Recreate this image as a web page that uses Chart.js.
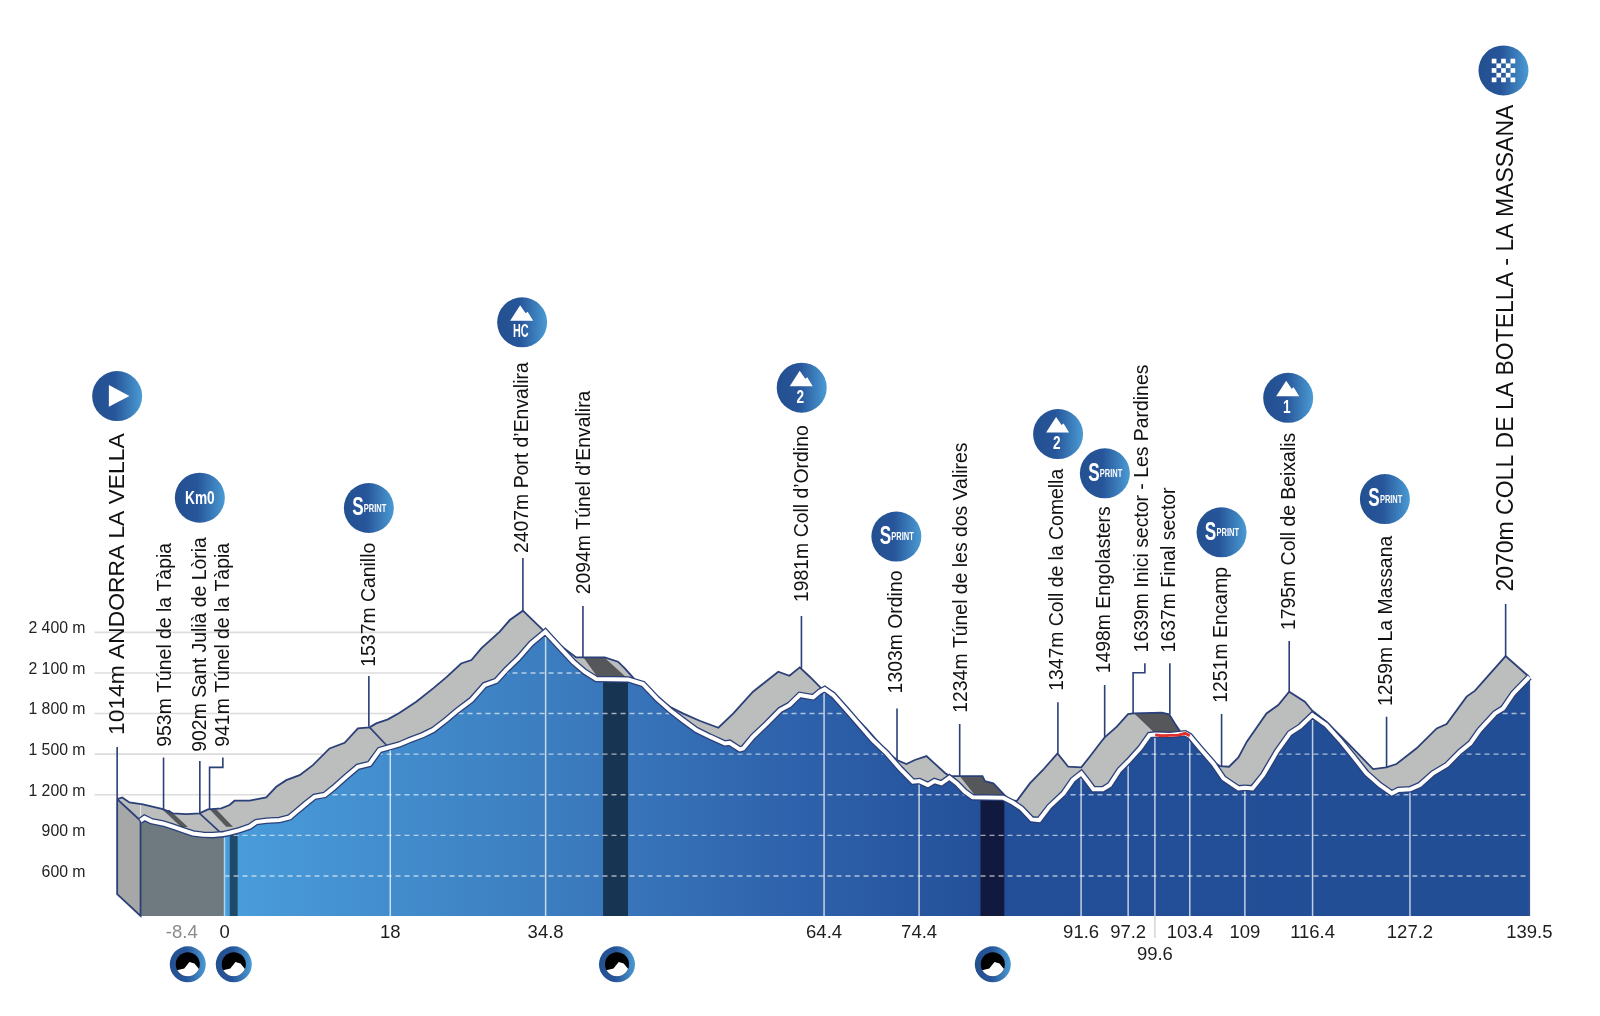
<!DOCTYPE html>
<html>
<head>
<meta charset="utf-8">
<title>Stage profile</title>
<style>
html,body{margin:0;padding:0;background:#fff}
#wrap{position:relative;width:1600px;height:1016px}
</style>
<script src="https://cdn.jsdelivr.net/npm/chart.js@4"></script>
</head>
<body>
<div id="wrap"><canvas id="c"></canvas></div>
<script>
// ---- profile (front edge = road profile), km / metres
const frontKm = [-8.98,-8.55,-7.84,-6.59,-5.52,-4.45,-3.38,-2.31,-1.24,-0.10,0.54,1.61,2.68,3.39,4.46,5.89,6.96,7.67,8.74,9.63,10.7,11.59,13.0,14.26,15.51,16.58,17.83,18.72,19.79,21.2,22.3,23.7,24.96,26.4,27.8,29.06,30.1,31.4,32.8,34.3,35.83,37.26,38.5,39.75,43.14,44.75,46.2,47.6,49.0,50.45,51.9,53.5,54.0,55.1,55.45,56.5,58.0,59.4,60.4,61.5,62.93,63.64,64.17,65.07,66.5,67.9,69.3,70.8,72.2,73.6,74.3,75.2,75.9,76.65,77.5,78.3,79.15,80.0,83.25,84.3,85.2,86.3,87.1,88.2,89.7,90.7,91.6,92.16,92.9,93.9,94.65,95.7,96.6,97.9,98.9,99.5,101.1,102.7,103.2,104.3,105.7,106.8,108.4,109.1,109.9,111.05,112.5,113.9,115.0,116.3,117.8,119.25,120.7,122.1,123.5,124.8,125.5,126.75,127.8,129.2,130.7,132.1,133.2,134.2,135.85,136.7,137.8,139.5];
const frontElev = [1008,1030,1005,988,964,939,914,904,902,909,919,939,964,998,1008,1013,1033,1074,1136,1185,1198,1247,1333,1407,1427,1530,1555,1572,1604,1641,1678,1752,1826,1900,2010,2042,2121,2207,2318,2404,2289,2183,2109,2055,2052,2018,1912,1826,1752,1678,1629,1579,1584,1535,1542,1629,1727,1826,1863,1937,1920,1961,1981,1937,1826,1715,1604,1506,1395,1296,1301,1272,1301,1284,1326,1284,1223,1181,1178,1141,1099,1018,1013,1112,1210,1309,1358,1309,1240,1240,1272,1383,1444,1543,1641,1646,1641,1654,1634,1543,1432,1321,1247,1252,1247,1346,1518,1654,1703,1789,1715,1604,1481,1358,1272,1210,1235,1240,1272,1358,1420,1518,1580,1678,1801,1838,1949,2070];
// back edge of the perspective band
const backKm = [-11.48,-10.94,-10.16,-8.73,-6.59,-5.52,-4.1,-2.67,-1.78,-0.35,0.54,1.07,2.68,4.46,5.53,6.6,8.03,9.45,11.23,12.84,14.26,15.51,16.22,17.47,18.72,20.5,22.3,23.7,25.3,26.4,27.45,29.4,30.5,31.9,34.05,35.83,37.6,40.65,42.07,42.8,43.85,44.75,46.2,47.6,49.0,50.8,52.8,54.4,56.5,59.2,60.4,61.5,62.57,63.8,65.07,66.5,68.6,70.8,71.9,72.9,73.8,75.05,75.9,77.0,77.5,81.04,81.3,82.2,83.4,83.8,84.7,86.1,87.5,89.06,90.2,91.6,92.5,93.6,94.1,95.4,96.6,97.15,100.2,101.0,101.6,102.3,103.2,104.3,105.7,106.4,107.4,108.4,109.3,111.4,112.66,113.83,115.5,116.3,117.8,120.3,122.8,124.2,125.3,127.45,129.6,130.66,132.8,133.7,136.97,139.5];
const backElev = [1168,1180,1143,1129,1094,1062,1057,1062,1092,1099,1124,1156,1156,1180,1259,1308,1345,1419,1542,1584,1690,1698,1727,1757,1806,1887,1986,2067,2170,2195,2281,2404,2491,2560,2417,2306,2215,2215,2183,2133,2052,2023,1919,1850,1801,1747,1695,1801,1961,2109,2079,2141,2072,1986,1944,1838,1690,1518,1457,1427,1457,1486,1432,1363,1338,1338,1301,1284,1198,1161,1154,1284,1383,1506,1407,1402,1481,1580,1624,1703,1796,1801,1806,1794,1727,1654,1641,1555,1444,1412,1407,1476,1592,1801,1863,1961,1888,1821,1740,1567,1390,1402,1427,1543,1690,1723,1925,1969,2225,2070];
const sectorKm = [99.5,100.2,101.1,102.0,102.7,103.2];
const sectorElev = [1642,1636,1638,1641,1654,1636];

// ---- axes
const elevTicks = [600,900,1200,1500,1800,2100,2400];
const elevTickLabels = ['600 m','900 m','1 200 m','1 500 m','1 800 m','2 100 m','2 400 m'];
const kmTickAt = [-4.57,0,17.72,34.33,64.1,74.26,91.58,96.61,99.47,103.2,109.09,116.33,126.74,139.5];
const kmTickLabels = ['-8.4','0','18','34.8','64.4','74.4','91.6','97.2',['','99.6'],'103.4','109','116.4','127.2','139.5'];
const stemKm = [0,17.72,34.33,64.1,74.26,91.58,96.61,99.47,103.2,109.09,116.33,126.74];
const stemTop = [910,1553,2404,1975,1300,1358,1444,1646,1634,1252,1789,1240];
const dashLevels = [600,900,1200,1500,1800,2100];
const solidLevels = [1200,1500,1800,2100,2400];
const solidEndKm = [4.5,10.5,18.36,24.06,29.2];

// ---- tunnels: dark columns under the road
const tunnelFromKm = [0.53,40.47,80.8];
const tunnelToKm = [1.42,43.14,83.4];
const tunnelElev = [925,2052,1178];
const tunnelColors = ['#1f4a69','#173452','#12193f'];

// ---- dark wedges across the band (upper and lower outline)
const wedgeUpperKm = [[-6.59,-5.88,-3.92],[-1.6,-0.89,0.9],[38.4,40.64,43.0],[78.6,80.93,81.29,82.18,83.32],[97.26,100.18,101,102.32]];
const wedgeUpperElev = [[1087,1087,961],[1092,1092,964],[2212,2212,2065],[1338,1338,1301,1284,1198],[1801,1806,1794,1654]];
const wedgeLowerKm = [[-6.59,-4.63,-3.92],[-1.6,0.18,0.9],[38.4,39.93,43.0],[78.6,80.2,83.32],[97.26,99.47,102.32]];
const wedgeLowerElev = [[1087,961,961],[1092,964,964],[2212,2065,2065],[1338,1198,1198],[1801,1654,1654]];

// ---- start face of the block
const sideKm = [-11.48,-8.98];
const sideTopElev = [1168,1008];
const sideBottomElev = [466,304];
const edgeKm = [-11.48,-11.48,-8.98,-8.98,-11.48];
const edgeElev = [1168,466,304,1008,1168];
const connectorKm = [[15.51,17.47],[-2.67,-0.46]];
const connectorElev = [[1698,1555],[1062,922]];

// ---- leaders and waypoint names
const leaderKm = [[-11.48,-11.48],[-6.52,-6.52],[-2.64,-2.64],[-0.18,-0.18,-1.6,-1.6],[15.43,15.43],[31.9,31.9],[38.32,38.32],[61.68,61.68],[71.9,71.9],[78.6,78.6],[89.1,89.1],[94.1,94.1],[98.4,98.4,97.14,97.14],[101.07,101.07],[106.6,106.6],[113.83,113.83],[124.24,124.24],[136.97,136.97]];
const leaderElev = [[1552,1168],[1476,1092],[1449,1065],[1476,1402,1402,1092],[2077,1702],[2949,2560],[2594,2215],[2520,2134],[1838,1456],[1722,1338],[1883,1506],[2011,1624],[2171,2101,2101,1801],[2171,1794],[1796,1412],[2336,1961],[1776,1402],[2609,2225]];
const placeNames = ['1014m ANDORRA LA VELLA','953m Túnel de la Tàpia','902m Sant Julià de Lòria','941m Túnel de la Tàpia','1537m Canillo','2407m Port d’Envalira','2094m Túnel d’Envalira','1981m Coll d’Ordino','1303m Ordino','1234m Túnel de les dos Valires','1347m Coll de la Comella','1498m Engolasters','1639m Inici sector - Les Pardines','1637m Final sector','1251m Encamp','1795m Coll de Beixalis','1259m La Massana','2070m COLL DE LA BOTELLA - LA MASSANA'];
const placeKm = [-11.38,-6.28,-2.53,-0.11,15.47,31.9,38.54,61.84,71.87,78.82,89.09,94.07,98.18,101.1,106.64,113.86,124.2,137.05];
const placeElev = [1642,1555,1518,1555,2146,2986,2681,2624,1949,1806,1968,2097,2252,2252,1880,2417,1855,2701];
const placeBig = [0,17];

// ---- badges
const badgeKm = [-11.48,-2.64,15.43,31.82,61.71,71.83,89.12,94.12,106.6,113.72,124.06,136.74];
const badgeElev = [4146,3395,3319,4691,4208,3108,3865,3575,3139,4133,3385,6552];
const badgeKinds = ['start','km0','sprint','HC','2','sprint','2','sprint','sprint','1','sprint','finish'];
const tunnelIconKm = [-3.93,0.99,41.96,82.14];
const tunnelIconElev = [-53,-53,-53,-53];

const zip=(a,b)=>a.map((v,i)=>({x:v,y:b[i]}));
const NAVY='#2b3f78', BAND='#bcbdbd', FONT='"Liberation Sans", Arial, sans-serif';
const ds=[];
function add(data,opts){
  const d=Object.assign({type:'line',data,pointRadius:0,borderWidth:0,borderColor:'transparent',backgroundColor:'transparent',tension:0,fill:false,clip:false},opts||{});
  ds.push(d);return ds.length-1;
}
function frontGradient(c){
  const ch=c.chart; if(!ch.chartArea) return '#2e60a9';
  const sx=ch.scales.x, a=sx.getPixelForValue(-8.98), b=sx.getPixelForValue(139.5);
  if(!Number.isFinite(a)||!Number.isFinite(b)||a===b) return '#2e60a9';
  const g=ch.ctx.createLinearGradient(a,0,b,0);
  const p=k=>(sx.getPixelForValue(k)-a)/(b-a);
  g.addColorStop(0,'#6f7a80');g.addColorStop(p(0),'#6f7a80');
  g.addColorStop(p(0),'#4a9ddb');
  g.addColorStop(p(34),'#3c7ec0');
  g.addColorStop(p(62),'#2e61ab');
  g.addColorStop(p(82),'#234f98');
  g.addColorStop(1,'#224e96');
  return g;
}
// grey reference lines left of the first climb
solidLevels.forEach((lv,i)=>add([{x:-13.9,y:lv},{x:solidEndKm[i],y:lv}],{borderColor:'#dcdcdc',borderWidth:1.6}));
const iFront=add(zip(frontKm,frontElev),{fill:'start',backgroundColor:frontGradient});
const iBack=add(zip(backKm,backElev),{fill:{target:iFront,above:BAND,below:'transparent'},backgroundColor:BAND});
const iSideTop=add(zip(sideKm,sideTopElev),{fill:{target:iBack,below:BAND,above:BAND},backgroundColor:BAND});
add(zip(sideKm,sideBottomElev),{fill:{target:iSideTop,below:'#a6a8a8',above:'#a6a8a8'},backgroundColor:'#a6a8a8'});
tunnelFromKm.forEach((k,i)=>add([{x:k,y:tunnelElev[i]},{x:tunnelToKm[i],y:tunnelElev[i]}],{fill:'start',backgroundColor:tunnelColors[i]}));
dashLevels.forEach(lv=>add([{x:0,y:lv},{x:139.5,y:lv}],{borderColor:'rgba(255,255,255,.62)',borderWidth:1.4,borderDash:[5,4],underRoad:true}));
stemKm.forEach((k,i)=>add([{x:k,y:304},{x:k,y:stemTop[i]}],{borderColor:i===0?'#a9d6ee':'rgba(255,255,255,.72)',borderWidth:1.5}));
add([{x:99.47,y:304},{x:99.47,y:141}],{borderColor:'#d4d4d4',borderWidth:1.5});
wedgeUpperKm.forEach((k,i)=>{
  const lo=add(zip(wedgeLowerKm[i],wedgeLowerElev[i]),{});
  add(zip(k,wedgeUpperElev[i]),{fill:{target:lo,above:'#56575a',below:'#56575a'},backgroundColor:'#56575a'});
});
add([{x:139.5,y:304},{x:139.5,y:2070}],{borderColor:'#33508f',borderWidth:1.6});
add(zip(backKm,backElev),{borderColor:NAVY,borderWidth:1.8});
add(zip(edgeKm,edgeElev),{borderColor:NAVY,borderWidth:1.8});
connectorKm.forEach((k,i)=>add(zip(k,connectorElev[i]),{borderColor:NAVY,borderWidth:1.6}));
add(zip(frontKm,frontElev),{borderColor:NAVY,borderWidth:6.6});
add(zip(frontKm,frontElev),{borderColor:'#ffffff',borderWidth:4});
add(zip(sectorKm,sectorElev),{borderColor:'#e0312e',borderWidth:2.8});
leaderKm.forEach((k,i)=>add(zip(k,leaderElev[i]),{borderColor:NAVY,borderWidth:1.6}));
function discGradient(ctx,x,r){
  const g=ctx.createLinearGradient(x-r,0,x+r,0);
  g.addColorStop(0,'#23508f');g.addColorStop(.45,'#27559a');g.addColorStop(1,'#4a9bd4');
  return g;
}
function discFill(r){
  return c=>{
    if(!c.parsed) return '#23508f';
    const x=c.chart.scales.x.getPixelForValue(c.parsed.x);
    if(!Number.isFinite(x)) return '#23508f';
    return discGradient(c.chart.ctx,x,r);
  };
}
add(zip(badgeKm,badgeElev),{showLine:false,pointRadius:25,pointBorderWidth:0,pointBackgroundColor:discFill(25)});
ds.forEach((d,i)=>d.order=ds.length-i);

const roadClip={id:'roadClip',
  beforeDatasetDraw(ch,args){
    if(!ch.data.datasets[args.index].underRoad) return;
    const {x,y}=ch.scales,c=ch.ctx;
    c.save();c.beginPath();
    frontKm.forEach((k,i)=>{const X=x.getPixelForValue(k),Y=y.getPixelForValue(frontElev[i]);i?c.lineTo(X,Y):c.moveTo(X,Y);});
    c.lineTo(x.getPixelForValue(139.5),y.getPixelForValue(304));
    c.lineTo(x.getPixelForValue(-8.98),y.getPixelForValue(304));
    c.closePath();c.clip();
  },
  afterDatasetDraw(ch,args){ if(ch.data.datasets[args.index].underRoad) ch.ctx.restore(); }
};
function squeezed(c,txt,x,y,font,sx){
  c.save();c.translate(x,y);c.scale(sx,1);c.font=font;c.fillText(txt,0,0);c.restore();
}
function mountain(c){
  c.beginPath();c.moveTo(-12,-1.5);c.lineTo(-2,-17);c.lineTo(3.5,-9);c.lineTo(5.5,-10.5);c.lineTo(11,-1.5);c.closePath();c.fill();
}
const annotations={id:'annotations',
  afterDraw(ch){
    const {x,y}=ch.scales,c=ch.ctx;
    // waypoint names
    c.save();c.fillStyle='#111';c.textAlign='left';c.textBaseline='middle';
    placeNames.forEach((t,i)=>{
      c.save();c.translate(x.getPixelForValue(placeKm[i]),y.getPixelForValue(placeElev[i]));c.rotate(-Math.PI/2);
      c.font=(i===0?'22.8px ':i===17?'23px ':'19.4px ')+FONT;c.fillText(t,0,0);c.restore();
    });
    c.restore();
    // badge glyphs
    badgeKinds.forEach((k,i)=>{
      const X=x.getPixelForValue(badgeKm[i]),Y=y.getPixelForValue(badgeElev[i]);
      c.save();c.translate(X,Y);c.fillStyle='#fff';c.textAlign='center';c.textBaseline='middle';
      if(k==='start'){c.beginPath();c.moveTo(-8.3,-11);c.lineTo(12.3,0);c.lineTo(-8.3,10.8);c.closePath();c.fill();}
      else if(k==='km0'){squeezed(c,'Km0',0,1,'bold 19px '+FONT,.72);}
      else if(k==='sprint'){
        squeezed(c,'S',-11,0,'bold 26px '+FONT,.66);
        c.textAlign='left';
        squeezed(c,'PRINT',-5,0.5,'bold 11px '+FONT,.68);
      }
      else if(k==='finish'){
        const n=5,s=4.7;
        for(let a=0;a<n;a++)for(let b=0;b<n;b++){ if((a+b)%2===0) c.fillRect((a-n/2)*s,(b-n/2)*s,s,s); }
      }
      else{
        mountain(c);
        squeezed(c,k,-1.3,10,'bold 17.5px '+FONT,k==='HC'?.62:.78);
      }
      c.restore();
    });
    // tunnel icons
    tunnelIconKm.forEach((k,i)=>{
      const X=x.getPixelForValue(k),Y=y.getPixelForValue(tunnelIconElev[i]);
      c.save();c.translate(X,Y);
      c.beginPath();c.arc(0,0,18,0,Math.PI*2);c.fillStyle=discGradient(c,0,18);c.fill();
      c.beginPath();c.arc(0,0,12,0,Math.PI*2);c.fillStyle='#000';c.fill();c.clip();
      c.fillStyle='#fff';c.beginPath();c.moveTo(-13,6.5);c.lineTo(-3.5,4.3);c.lineTo(1.7,-2.3);c.lineTo(6.7,-0.7);c.lineTo(13,7);c.lineTo(14,16);c.lineTo(-14,16);c.closePath();c.fill();
      c.restore();
    });
  }
};
function flush(a){a.paddingTop=0;a.paddingBottom=0;a.paddingLeft=0;a.paddingRight=0;}

new Chart(document.getElementById('c'),{
  type:'line',
  data:{datasets:ds},
  plugins:[roadClip,annotations],
  options:{
    responsive:true,maintainAspectRatio:false,animation:false,devicePixelRatio:1,events:[],
    layout:{padding:{left:0,top:0,right:70.7,bottom:0}},
    plugins:{legend:{display:false},tooltip:{enabled:false},title:{display:false}},
    scales:{
      x:{type:'linear',min:-11.55,max:139.5,
        grid:{display:false,drawTicks:false,tickLength:0},border:{display:false},
        afterBuildTicks(a){a.ticks=kmTickAt.map(v=>({value:v}));},
        afterFit(a){a.height=100;flush(a);},
        ticks:{autoSkip:false,maxRotation:0,minRotation:0,padding:6,
          font:{family:FONT,size:18.5},
          color:c=>c.index===0?'#8b8b8b':'#1d1d1d',
          callback:(v,i)=>kmTickLabels[i]}},
      y:{type:'linear',min:304,max:6888,
        grid:{display:false,drawTicks:false,tickLength:0},border:{display:false},
        afterBuildTicks(a){a.ticks=elevTicks.map(v=>({value:v}));},
        afterFit(a){a.width=116.5;flush(a);},
        ticks:{autoSkip:false,padding:31,labelOffset:-3.5,
          font:{family:FONT,size:15.8},color:'#222',
          callback:(v,i)=>elevTickLabels[i]}}
    }
  }
});
</script>
</body>
</html>
